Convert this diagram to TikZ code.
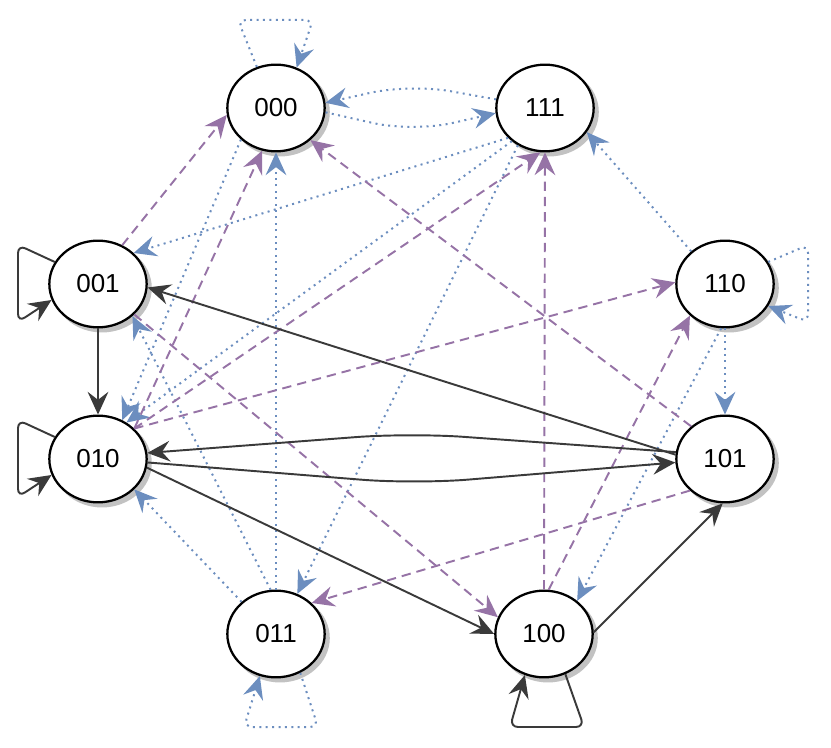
\documentclass[tikz,border=0pt]{standalone}
\usepackage{fontspec}
\setmainfont{Liberation Sans}
\usetikzlibrary{shapes.geometric,arrows.meta}
\definecolor{bl}{HTML}{6C8EBF}
\definecolor{pu}{HTML}{9673A6}
\definecolor{dk}{HTML}{3A3A3A}
\definecolor{shd}{HTML}{C2C2C2}
\tikzset{
  state/.style={ellipse, draw=black, line width=1.7pt, fill=white,
    minimum width=73pt, minimum height=65pt, inner sep=0pt,
    font=\fontsize{19.5}{22}\selectfont,
    preaction={draw=shd, line width=1.7pt, fill=shd, transform canvas={xshift=3pt,yshift=-3pt}}},
  bedge/.style={draw=bl, line width=1.5pt, dash pattern=on 1.5pt off 3.3pt,
    -{Stealth[length=17pt,width=15.5pt,inset=6pt,fill=bl]}},
  pedge/.style={draw=pu, line width=1.45pt, dash pattern=on 7pt off 4.5pt,
    -{Stealth[length=17pt,width=15.5pt,inset=6pt,fill=pu]}},
  dedge/.style={draw=dk, line width=1.45pt,
    -{Stealth[length=17pt,width=15.5pt,inset=6pt,fill=dk]}},
}
\begin{document}
\begin{tikzpicture}[x=0.75pt,y=-0.75pt]
\useasboundingbox (0,0) rectangle (831,748);
% nodes
\node[state] (n000) at (276,108) {000};
\node[state] (n111) at (545,108) {111};
\node[state] (n001) at (98,284) {001};
\node[state] (n110) at (725,284) {110};
\node[state] (n010) at (98,459) {010};
\node[state] (n101) at (725,459) {101};
\node[state] (n011) at (276,634) {011};
\node[state] (n100) at (544,634) {100};
% blue dotted
\draw[bedge, rounded corners=30pt] (n111.170) -- (410,84) -- (n000.6);
\draw[bedge, rounded corners=30pt] (n000.-5) -- (413,132) -- (n111.186);
\draw[bedge] (n111.219) -- (n001.41);
\draw[bedge] (n111.225) -- (n010.52);
\draw[bedge] (n111.234) -- (n011.62);
\draw[bedge] (n110.136) -- (n111.-30);
\draw[bedge] (n110.-90) -- (n101.90);
\draw[bedge] (n110.-95) -- (n100.45);
\draw[bedge] (n011.90) -- (n000.-90);
\draw[bedge] (n011.137) -- (n010.-40);
\draw[bedge] (n011.97) -- (n001.-43);
\draw[bedge] (n000.222) -- (n010.58);
\draw[bedge, rounded corners=6pt] (n000.115) -- (238,20) -- (313,20) -- (n000.63);
\draw[bedge, rounded corners=6pt] (n110.27) -- (808,245) -- (808,322) -- (n110.-27);
\draw[bedge, rounded corners=6pt] (n011.-58) -- (318,727) -- (244,727) -- (n011.-111);
% purple dashed
\draw[pedge] (n001.58) -- (n000.188);
\draw[pedge] (n010.40) -- (n000.-108);
\draw[pedge] (n010.40) -- (n111.-96);
\draw[pedge] (n010.40) -- (n110.178);
\draw[pedge] (n100.90) -- (n111.-90);
\draw[pedge] (n100.84) -- (n110.222);
\draw[pedge] (n101.136) -- (n000.-43);
\draw[pedge] (n101.222) -- (n011.41);
\draw[pedge] (n001.-40) -- (n100.160);
% dark solid
\draw[dedge] (n001.-90) -- (n010.90);
\draw[dedge] (n101.175) -- (n001.-4);
\draw[dedge, rounded corners=40pt] (n101.172) -- (410,433) -- (n010.7);
\draw[dedge, rounded corners=40pt] (n010.-4) -- (415,484) -- (n101.184);
\draw[dedge] (n010.-10) -- (n100.180);
\draw[dedge] (n100.2) -- (n101.-93);
\draw[dedge, rounded corners=6pt] (n001.153) -- (18,245) -- (18,322) -- (n001.199);
\draw[dedge, rounded corners=6pt] (n010.153) -- (18,420) -- (18,497) -- (n010.199);
\draw[dedge, rounded corners=6pt] (n100.-62) -- (584,727) -- (510,727) -- (n100.-115);
\end{tikzpicture}
\end{document}
